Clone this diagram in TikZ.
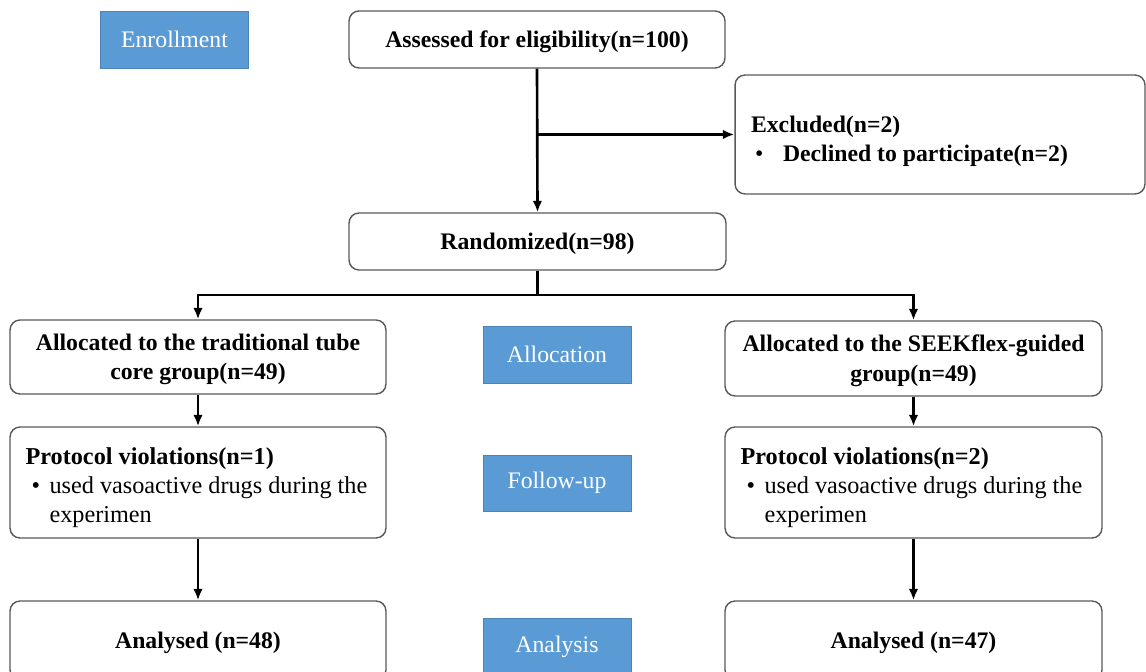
\documentclass[tikz,border=0pt]{standalone}
\usepackage{fontspec}
\setmainfont{Liberation Serif}
\usepackage{xcolor}
\usepackage{tikz}
\usetikzlibrary{arrows.meta,positioning}
\definecolor{phaseblue}{HTML}{5B9BD5}
\tikzset{
    every node/.style={font=\fontsize{13.5}{16.8}\selectfont},
    flowbox/.style={draw=black!65, line width=0.8pt, rounded corners=0.2cm, inner sep=0pt,
        minimum width=7.52cm, minimum height=1.14cm, align=center,
        font=\fontsize{13.5}{16.8}\selectfont\bfseries},
    notebox/.style={draw=black!65, line width=0.8pt, rounded corners=0.2cm, inner xsep=0.31cm, inner ysep=0pt,
        text width=6.9cm, minimum height=2.22cm, align=flush left,
        font=\fontsize{13.8}{16.6}\selectfont},
    phase/.style={fill=phaseblue, draw=phaseblue!85!black, line width=0.5pt, text=white,
        minimum width=2.96cm, minimum height=1.14cm, inner sep=0pt},
    flowarrow/.style={-{Latex[length=0.23cm,width=0.19cm]}, line width=1.5pt}
}

\begin{document}
\begin{tikzpicture}[x=0.02cm,y=-0.02cm]
    \useasboundingbox (0,0) rectangle (1146,672);
    \clip (0,0) rectangle (1146,672);

    % Phase labels
    \node[phase] (enroll) at (174.5,39.5) {Enrollment};
    \node[phase] (alloc) at (557,354.5) {Allocation};
    \node[phase, minimum height=1.12cm] (follow) at (557,483) {Follow-up};
    \node[phase, minimum height=1.16cm] (analysis) at (557,647) {Analysis};

    % Enrollment
    \node[flowbox] (assess) at (537,39.5) {\rule{0pt}{12pt}Assessed for eligibility(n=100)};
    \node[notebox, text width=7.56cm, inner xsep=0.32cm, minimum height=2.38cm,
        font=\fontsize{13.5}{16.8}\selectfont] (excl) at (940,134.5)
        {\rule{0pt}{17pt}\textbf{Excluded(n=2)}\\\makebox[0.64cm][l]{\hspace{0.08cm}\textbullet}\textbf{Declined to participate(n=2)}};
    \node[flowbox, minimum width=7.54cm] (rand) at (537.5,241.5) {\rule{0pt}{12pt}Randomized(n=98)};

    % Allocation
    \node[flowbox, minimum height=1.48cm] (allocL) at (198,357)
        {\rule{0pt}{12pt}Allocated to the traditional tube\\core group(n=49)};
    \node[flowbox, minimum width=7.54cm, minimum height=1.5cm] (allocR) at (913.5,358.5)
        {\rule{0pt}{12pt}Allocated to the SEEKflex-guided\\group(n=49)};

    % Follow-up
    \node[notebox] (protL) at (198,482.5)
        {\rule{0pt}{15.5pt}\textbf{Protocol violations(n=1)}\\\makebox[0.48cm][l]{\hspace{0.12cm}\textbullet}used vasoactive drugs during the\\\hspace*{0.48cm}experimen};
    \node[notebox, text width=6.92cm] (protR) at (913.5,482.5)
        {\rule{0pt}{15.5pt}\textbf{Protocol violations(n=2)}\\\makebox[0.48cm][l]{\hspace{0.12cm}\textbullet}used vasoactive drugs during the\\\hspace*{0.48cm}experimen};

    % Analysis
    \node[flowbox, minimum height=1.58cm] (anaL) at (198,640.5) {\rule{0pt}{12pt}Analysed (n=48)};
    \node[flowbox, minimum width=7.54cm, minimum height=1.58cm] (anaR) at (913.5,640.5) {\rule{0pt}{12pt}Analysed (n=47)};

    % Connectors
    \draw[flowarrow] (assess.south) -- (rand.north);
    \draw[flowarrow] (assess.south |- excl.west) -- (excl.west);
    \coordinate (split) at (537.5,295);
    \draw[line width=1.5pt] (rand.south) -- (split);
    \draw[flowarrow] (split) -| (allocL.north);
    \draw[flowarrow] (split) -| (allocR.north);
    \draw[flowarrow] (allocL.south) -- (protL.north);
    \draw[flowarrow] (allocR.south) -- (protR.north);
    \draw[flowarrow] (protL.south) -- (anaL.north);
    \draw[flowarrow] (protR.south) -- (anaR.north);
\end{tikzpicture}
\end{document}
